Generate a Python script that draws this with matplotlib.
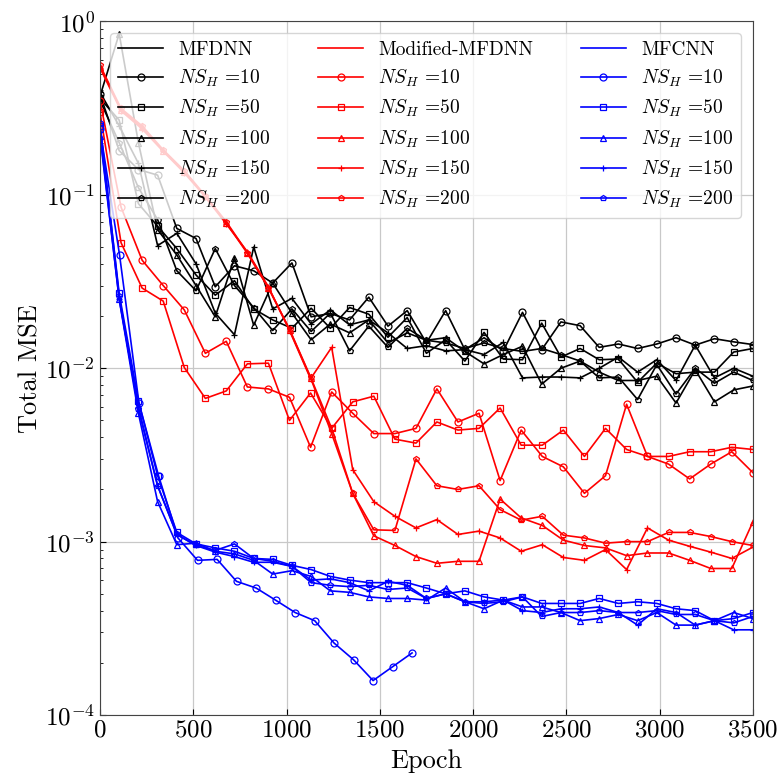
import numpy as np
import matplotlib
matplotlib.use("Agg")
import matplotlib.pyplot as plt

# --------------------------------------------------
# DATA
# --------------------------------------------------
epochs_35 = [0, 103, 206, 309, 412, 515, 618, 721, 824, 926, 1029, 1132,
             1235, 1338, 1441, 1544, 1647, 1750, 1853, 1956, 2059, 2162,
             2265, 2368, 2471, 2574, 2676, 2779, 2882, 2985, 3088, 3191,
             3294, 3397, 3500]
epochs_32 = [0, 113, 226, 339, 452, 565, 677, 790, 903, 1016, 1129, 1242,
             1355, 1468, 1581, 1694, 1806, 1919, 2032, 2145, 2258, 2371,
             2484, 2597, 2710, 2823, 2935, 3048, 3161, 3274, 3387, 3500]
epochs_17 = [0, 105, 209, 314, 418, 523, 628, 732, 837, 941, 1046, 1151,
             1255, 1360, 1464, 1569, 1673]

ns_labels = [10, 50, 100, 150, 200]
markers = ["o", "s", "^", "+", "p"]

# MFDNN (black)
mfdnn_10 = [0.38, 0.18, 0.14, 0.13, 0.064, 0.056, 0.0295, 0.039, 0.0365, 0.031,
            0.0405, 0.0198, 0.0207, 0.019, 0.0257, 0.0175, 0.0215, 0.014, 0.0215,
            0.0128, 0.015, 0.0126, 0.021, 0.0128, 0.0185, 0.0176, 0.0132, 0.0138,
            0.013, 0.0138, 0.015, 0.0136, 0.0148, 0.0142, 0.0137]
mfdnn_50 = [0.36, 0.27, 0.089, 0.066, 0.049, 0.0345, 0.0264, 0.032, 0.022, 0.019,
            0.017, 0.0222, 0.017, 0.0224, 0.0205, 0.0151, 0.0196, 0.0122, 0.0146,
            0.011, 0.0161, 0.0113, 0.0112, 0.0182, 0.0116, 0.013, 0.0112, 0.0113,
            0.0083, 0.0107, 0.0093, 0.0095, 0.0095, 0.0124, 0.013]
mfdnn_100 = [0.37, 0.85, 0.2, 0.063, 0.045, 0.03, 0.0198, 0.0434, 0.0177, 0.031,
             0.0208, 0.0146, 0.018, 0.016, 0.019, 0.014, 0.016, 0.0145, 0.015,
             0.0125, 0.0106, 0.012, 0.0134, 0.0081, 0.01, 0.011, 0.0095, 0.0085,
             0.0085, 0.009, 0.0063, 0.0098, 0.0064, 0.0075, 0.0079]
mfdnn_150 = [0.39, 0.25, 0.152, 0.051, 0.06, 0.04, 0.0208, 0.0156, 0.05, 0.022,
             0.0253, 0.018, 0.0217, 0.0178, 0.019, 0.016, 0.013, 0.0135, 0.0126,
             0.0128, 0.012, 0.0141, 0.0088, 0.0089, 0.0089, 0.0088, 0.01, 0.0116,
             0.0095, 0.0112, 0.0085, 0.0136, 0.0088, 0.01, 0.009]
mfdnn_200 = [0.35, 0.2, 0.11, 0.072, 0.0365, 0.028, 0.049, 0.03, 0.0224, 0.0165,
             0.022, 0.0163, 0.0208, 0.0126, 0.0175, 0.0132, 0.017, 0.0145, 0.014,
             0.013, 0.014, 0.013, 0.0125, 0.013, 0.012, 0.011, 0.0088, 0.0089,
             0.0066, 0.0105, 0.0071, 0.01, 0.0082, 0.0095, 0.0085]

# Modified-MFDNN (red)
mod_10 = [0.35, 0.085, 0.042, 0.030, 0.0217, 0.0122, 0.0143, 0.0078, 0.0076, 0.0068,
          0.0035, 0.0073, 0.0055, 0.0042, 0.0042, 0.0045, 0.0076, 0.0049, 0.0055,
          0.00225, 0.0044, 0.0031, 0.0027, 0.0019, 0.0024, 0.0062, 0.0031, 0.0028,
          0.0023, 0.0028, 0.0033, 0.0025]
mod_50 = [0.3, 0.053, 0.029, 0.0244, 0.0101, 0.0067, 0.0074, 0.0106, 0.0107, 0.005,
          0.0072, 0.0045, 0.0064, 0.0069, 0.0039, 0.0037, 0.0049, 0.0044, 0.0045,
          0.0059, 0.0036, 0.0036, 0.0044, 0.0031, 0.0045, 0.0034, 0.0031, 0.0031,
          0.0033, 0.0033, 0.0035, 0.0034]
mod_100 = [0.55, 0.31, 0.245, 0.18, 0.136, 0.098, 0.069, 0.046, 0.029, 0.0167,
           0.0088, 0.0042, 0.0019, 0.00108, 0.00095, 0.00082, 0.00075, 0.00077,
           0.00077, 0.00176, 0.00137, 0.00124, 0.00102, 0.00095, 0.00092, 0.00083,
           0.00086, 0.00086, 0.00078, 0.0007, 0.0007, 0.0013]
mod_150 = [0.54, 0.305, 0.24, 0.178, 0.134, 0.097, 0.068, 0.047, 0.0295, 0.0165,
           0.0087, 0.0132, 0.0026, 0.0017, 0.0014, 0.0012, 0.00134, 0.0011, 0.00115,
           0.00105, 0.00088, 0.00096, 0.00081, 0.00078, 0.0009, 0.00069, 0.0012,
           0.00102, 0.00094, 0.00087, 0.0008, 0.00093]
mod_200 = [0.56, 0.315, 0.25, 0.182, 0.138, 0.099, 0.07, 0.0465, 0.0292, 0.0168,
           0.0089, 0.0045, 0.0019, 0.00117, 0.00116, 0.003, 0.0021, 0.002, 0.0021,
           0.00153, 0.00133, 0.0014, 0.00109, 0.00105, 0.00098, 0.001, 0.001,
           0.00113, 0.00113, 0.00107, 0.001, 0.00095]

# MFCNN (blue)
mfcnn_10 = [0.24, 0.045, 0.0063, 0.0024, 0.00105, 0.00078, 0.00079, 0.00059,
            0.00054, 0.00046, 0.00039, 0.00035, 0.00026, 0.000208, 0.000158,
            0.00019, 0.000228]
mfcnn_50 = [0.25, 0.027, 0.0065, 0.0024, 0.00113, 0.00097, 0.00092, 0.00088, 0.0008,
            0.00079, 0.00073, 0.00069, 0.00063, 0.0006, 0.00058, 0.00058, 0.00058,
            0.00054, 0.0005, 0.00052, 0.00048, 0.00046, 0.00048, 0.00044, 0.00044,
            0.00044, 0.00047, 0.00044, 0.00045, 0.00044, 0.00041, 0.0004, 0.00035,
            0.00036, 0.00039]
mfcnn_100 = [0.22, 0.025, 0.0055, 0.0017, 0.00096, 0.00098, 0.00088, 0.00085,
             0.00078, 0.00065, 0.00068, 0.00063, 0.00052, 0.00051, 0.00048, 0.00047,
             0.00047, 0.00046, 0.00054, 0.00045, 0.00041, 0.00046, 0.00042, 0.00042,
             0.00039, 0.00035, 0.00036, 0.00038, 0.00035, 0.00039, 0.00033, 0.00033,
             0.00035, 0.00039, 0.00036]
mfcnn_150 = [0.23, 0.025, 0.006, 0.0021, 0.0011, 0.00095, 0.00087, 0.00082, 0.00076,
             0.00076, 0.00072, 0.0006, 0.00061, 0.00058, 0.00052, 0.00059, 0.00056,
             0.00047, 0.0005, 0.00045, 0.00045, 0.00046, 0.0004, 0.00039, 0.00041,
             0.00041, 0.00042, 0.00039, 0.00033, 0.00041, 0.00039, 0.00033, 0.00035,
             0.00031, 0.00031]
mfcnn_200 = [0.26, 0.026, 0.0058, 0.0021, 0.0011, 0.00095, 0.00089, 0.00097, 0.0008,
             0.00077, 0.00072, 0.00058, 0.00056, 0.00055, 0.00056, 0.00053, 0.00054,
             0.00047, 0.0005, 0.00045, 0.00044, 0.00045, 0.00048, 0.00037, 0.00039,
             0.00039, 0.0004, 0.00039, 0.00039, 0.0004, 0.00038, 0.00038, 0.00035,
             0.00034, 0.00037]

groups = [
    ("MFDNN", "k", [epochs_35] * 5,
     [mfdnn_10, mfdnn_50, mfdnn_100, mfdnn_150, mfdnn_200]),
    ("Modified-MFDNN", "r", [epochs_32] * 5,
     [mod_10, mod_50, mod_100, mod_150, mod_200]),
    ("MFCNN", "b", [epochs_17] + [epochs_35] * 4,
     [mfcnn_10, mfcnn_50, mfcnn_100, mfcnn_150, mfcnn_200]),
]

# --------------------------------------------------
# STYLE
# --------------------------------------------------
plt.rcParams["font.family"] = "serif"
plt.rcParams["font.serif"] = ["cmr10"]
plt.rcParams["mathtext.fontset"] = "cm"
plt.rcParams["axes.formatter.use_mathtext"] = True
plt.rcParams["axes.unicode_minus"] = False

# --------------------------------------------------
# PLOT
# --------------------------------------------------
fig = plt.figure(figsize=(7.81, 7.76), dpi=100)
ax = fig.add_axes([0.128, 0.0786, 0.836, 0.8937])

for name, color, xs, series in groups:
    ax.plot([], [], color=color, linewidth=1.2, label=name)
    for x, y, ns, m in zip(xs, series, ns_labels, markers):
        ms = 4.0 if m == "p" else 5.0
        ax.plot(x, y, color=color, linewidth=1.2, marker=m, markersize=ms,
                markerfacecolor="none", markeredgecolor=color,
                markeredgewidth=0.9, label=r"$NS_H$ =%d" % ns)

ax.set_yscale("log")
ax.set_xlim(0, 3500)
ax.set_ylim(1e-4, 1e0)
ax.set_xticks([0, 500, 1000, 1500, 2000, 2500, 3000, 3500])
ax.set_xlabel("Epoch", fontsize=19, labelpad=5)
ax.set_ylabel("Total MSE", fontsize=19, labelpad=2)
ax.tick_params(axis="both", which="both", direction="in", labelsize=18)
ax.tick_params(axis="both", which="major", length=4)
ax.tick_params(axis="y", which="minor", length=2)
ax.grid(True, which="major", color="#c8c8c8", linewidth=0.9)
for s in ax.spines.values():
    s.set_color("#444444")

ax.legend(ncol=3, loc="upper right", fontsize=14, handlelength=2.3,
          columnspacing=2.45, labelspacing=0.46, framealpha=0.8,
          borderaxespad=0.6)

plt.savefig("out.png", dpi=100)
plt.close()
